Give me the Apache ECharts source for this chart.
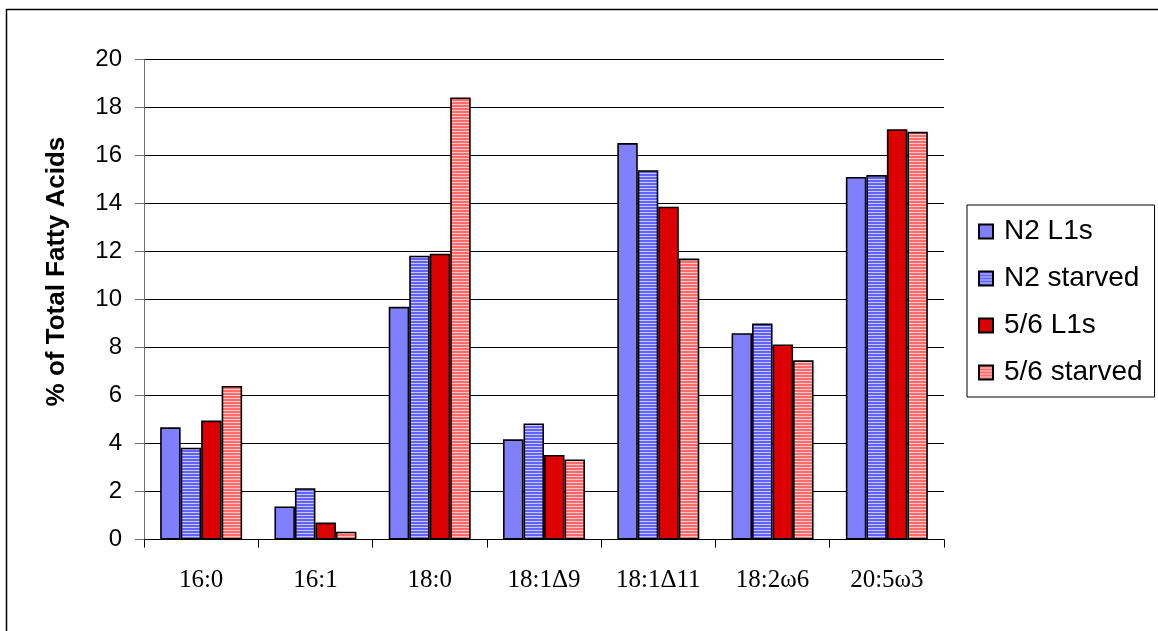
<!DOCTYPE html>
<html>
<head>
<meta charset="utf-8">
<script src="https://cdn.jsdelivr.net/npm/echarts@6/dist/echarts.min.js"></script>
<style>
html,body{margin:0;padding:0;background:#fff;}
#chart{width:1158px;height:631px;}
</style>
</head>
<body>
<div id="chart"></div>
<script>
var categories = ['16:0', '16:1', '18:0', '18:1\u03949', '18:1\u039411', '18:2\u03c96', '20:5\u03c93'];
var seriesNames = ['N2 L1s', 'N2 starved', '5/6 L1s', '5/6 starved'];
var n2L1s      = [4.68, 1.38, 9.70, 4.18, 16.52, 8.60, 15.11];
var n2Starved  = [3.83, 2.14, 11.83, 4.84, 15.39, 9.00, 15.19];
var l56L1s     = [4.96, 0.71, 11.91, 3.53, 13.87, 8.13, 17.10];
var l56Starved = [6.40, 0.33, 18.42, 3.34, 11.71, 7.47, 16.99];
var yTicks = [0, 2, 4, 6, 8, 10, 12, 14, 16, 18, 20];

function stripe(c1, c2) {
  var cv = document.createElement('canvas');
  cv.width = 4; cv.height = 3;
  var ctx = cv.getContext('2d');
  ctx.fillStyle = c1; ctx.fillRect(0, 0, 4, 2);
  ctx.fillStyle = c2; ctx.fillRect(0, 2, 4, 1);
  return { image: cv, repeat: 'repeat' };
}

var colors = ['#8080ff', stripe('#6262ff', '#c8c8ff'), '#dd0000', stripe('#ff6a6a', '#ffcaca')];
var values = [n2L1s, n2Starved, l56L1s, l56Starved];

var chart = echarts.init(document.getElementById('chart'), null, { renderer: 'canvas' });
var series = seriesNames.map(function (name, i) {
  return {
    name: name,
    type: 'bar',
    data: values[i],
    barWidth: 20.5,
    barGap: '0%',
    itemStyle: { color: colors[i], borderColor: '#000', borderWidth: 1.6 },
    emphasis: { disabled: true },
    animation: false
  };
});

chart.setOption({
  animation: false,
  backgroundColor: '#fff',
  graphic: [{
    type: 'rect',
    shape: { x: 6.5, y: 9.5, width: 1300, height: 800 },
    style: { fill: 'none', stroke: '#000', lineWidth: 1.5 },
    z: -1
  }],
  grid: { left: 144, right: 214, top: 59.6, bottom: 91.4, containLabel: false },
  legend: {
    orient: 'vertical',
    left: 967,
    top: 205,
    padding: [12.5, 12, 10.5, 11],
    itemGap: 19,
    itemWidth: 14,
    itemHeight: 14,
    icon: 'rect',
    borderColor: '#000',
    borderWidth: 1,
    textStyle: { fontFamily: 'Liberation Sans, Arial, sans-serif', fontSize: 28, color: '#000', lineHeight: 28, padding: [0, 0, 0, 6] },
    data: seriesNames
  },
  xAxis: {
    type: 'category',
    data: categories,
    axisLine: { lineStyle: { color: '#000', width: 1 } },
    axisTick: { show: true, length: 8, alignWithLabel: false, lineStyle: { color: '#000' } },
    axisLabel: { fontFamily: 'Liberation Serif, Times New Roman, serif', fontSize: 25, color: '#000', margin: 28 }
  },
  yAxis: {
    type: 'value',
    min: 0,
    max: 20,
    interval: 2,
    name: '% of Total Fatty Acids',
    nameLocation: 'middle',
    nameGap: 74,
    nameTextStyle: { fontFamily: 'Liberation Sans, Arial, sans-serif', fontSize: 26, fontWeight: 'bold', color: '#000', padding: [0, 0, 0, 56] },
    axisLine: { show: true, lineStyle: { color: '#707070', width: 1 } },
    axisTick: { show: true, length: 9, inside: false, lineStyle: { color: '#707070' } },
    axisLabel: { fontFamily: 'Liberation Sans, Arial, sans-serif', fontSize: 24, color: '#000', margin: 22,
      formatter: function (v) { return yTicks.indexOf(v) >= 0 ? String(v) : ''; } },
    splitLine: { show: true, lineStyle: { color: '#000', width: 1 } }
  },
  series: series
});
</script>
</body>
</html>
